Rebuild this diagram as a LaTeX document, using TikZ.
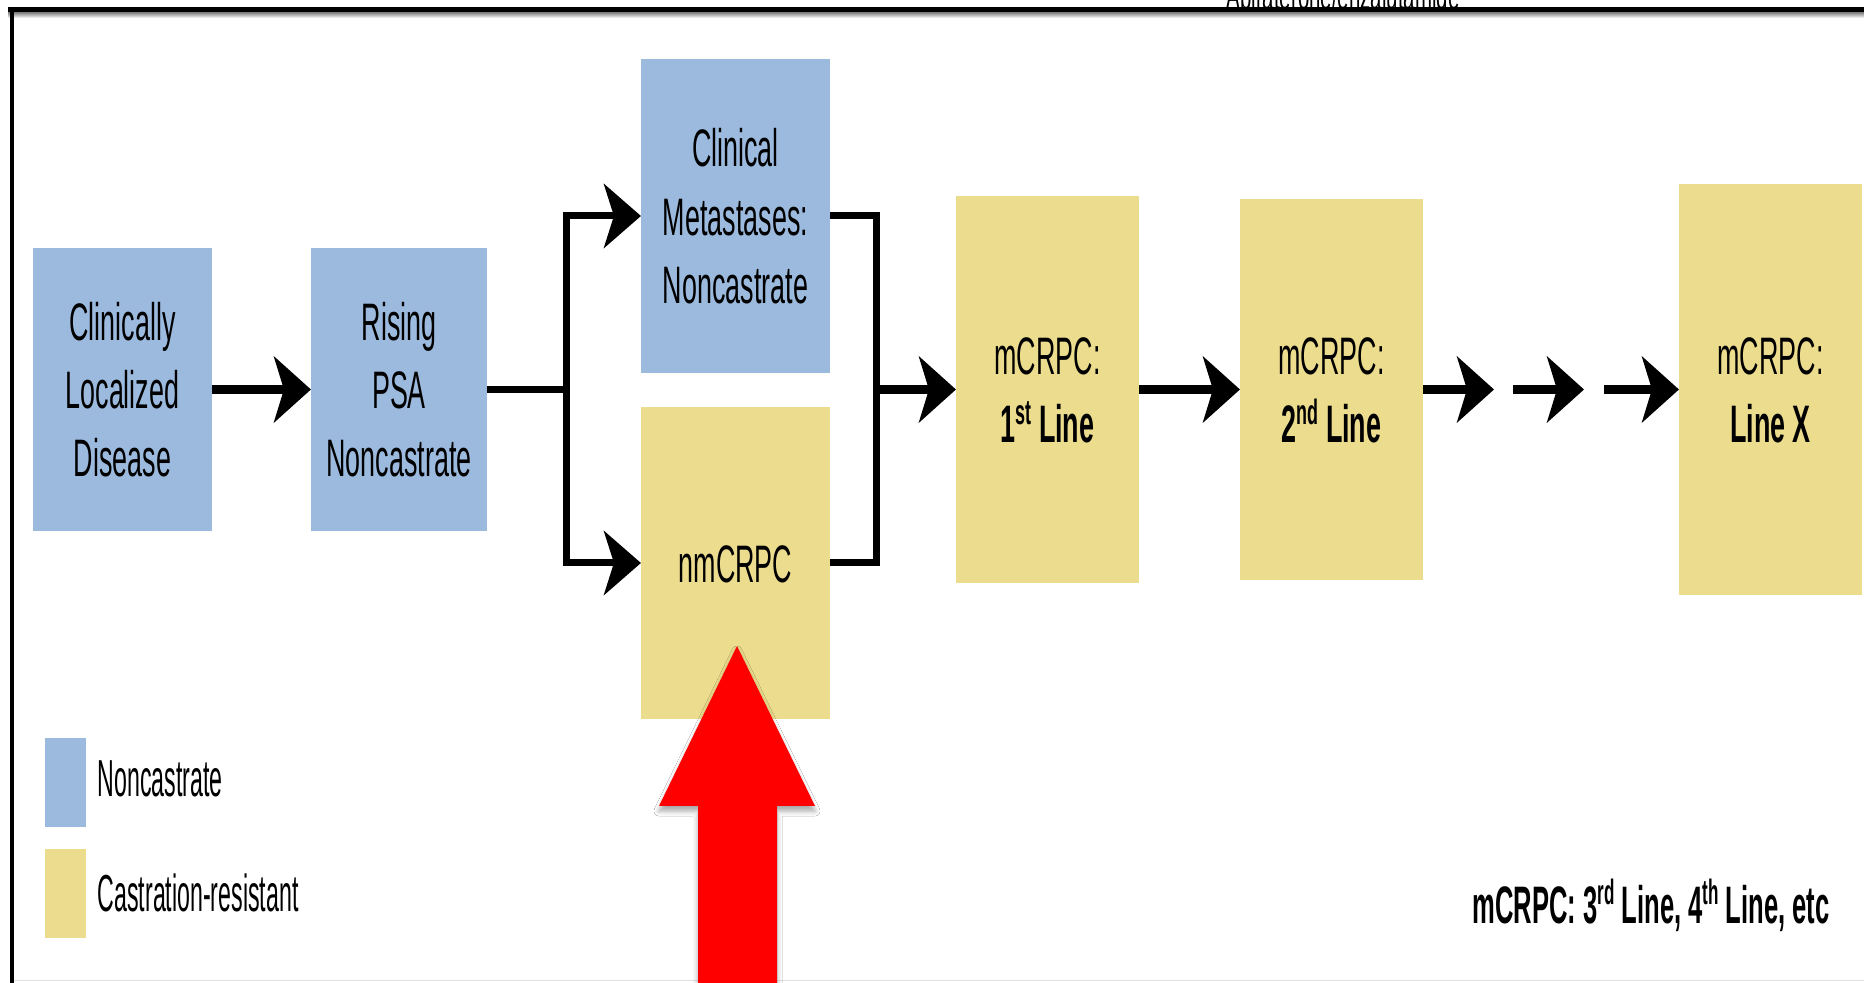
\documentclass[tikz,border=0pt]{standalone}
\usepackage{fontspec}
\setmainfont{Liberation Sans}[FakeStretch=0.51]
\newfontfamily\keyfont{Liberation Sans}[FakeStretch=0.445]
\newfontfamily\notefont{Liberation Sans}[FakeStretch=0.485]
\usetikzlibrary{arrows.meta,shadows.blur}

\definecolor{ncblue}{RGB}{156,186,221}
\definecolor{cryellow}{RGB}{236,220,142}

% strut centred on the cap height, so every line sits symmetrically
\newcommand\linestrut{\rule[-0.12cm]{0pt}{0.62cm}}
% ordinal suffix (st, nd, rd, th)
\newcommand\ordsup[1]{\raisebox{0.18cm}{\fontsize{10pt}{10pt}\selectfont #1}}

\tikzset{
  stage/.style={inner sep=0pt, outer sep=0pt, align=center,
    font=\fontsize{15pt}{19.35pt}\selectfont},
  noncast/.style={stage, fill=ncblue},
  castres/.style={stage, fill=cryellow},
  flow/.style={line width=0.09cm,
    -{Stealth[length=0.37cm,width=0.66cm,inset=0.1cm]}},
  branch/.style={line width=0.07cm},
  brancharrow/.style={branch,
    -{Stealth[length=0.37cm,width=0.64cm,inset=0.1cm]}},
  keybox/.style={inner sep=0pt, minimum width=0.41cm, minimum height=0.89cm},
  keytext/.style={inner sep=0pt, anchor=base west,
    font=\keyfont\fontsize{14.8pt}{16pt}\selectfont},
}

\begin{document}
\begin{tikzpicture}[x=0.01cm, y=-0.01cm]
\useasboundingbox (0,0) rectangle (1864,983);
\fill[white] (0,0) rectangle (1864,983);

% caption cut off by the slide edge
\node[inner sep=0pt, anchor=base, font=\fontsize{11.4pt}{11.4pt}\selectfont]
  (cuttext) at (1343,10) {Abiraterone/enzalutamide};

% slide frame
\fill[black] (8,7) rectangle (1864,13);
\shade[top color=black!45, bottom color=white] (8,13) rectangle (1864,18);
\fill[black] (10,7) rectangle (14,983);
\draw[line width=0.01cm, black!12] (14,980) -- (1864,980);

% disease states
\node[noncast, minimum width=1.79cm, minimum height=2.83cm] (local) at (122.5,389.5)
  {\linestrut Clinically\\\linestrut Localized\\\linestrut Disease};
\node[noncast, minimum width=1.76cm, minimum height=2.83cm] (psa) at (399,389.5)
  {\linestrut Rising\\\linestrut PSA\\\linestrut Noncastrate};
\node[noncast, minimum width=1.89cm, minimum height=3.14cm] (meta) at (735.5,216)
  {\linestrut Clinical\\\linestrut Metastases:\\\linestrut Noncastrate};
\node[castres, minimum width=1.89cm, minimum height=3.12cm] (nm) at (735.5,563)
  {\linestrut nmCRPC};
\node[castres, minimum width=1.83cm, minimum height=3.86cm] (first) at (1047.5,389.5)
  {\linestrut mCRPC:\\\linestrut\textbf{1\ordsup{st} Line}};
\node[castres, minimum width=1.83cm, minimum height=3.80cm] (second) at (1331.5,389.5)
  {\linestrut mCRPC:\\\linestrut\textbf{2\ordsup{nd} Line}};
\node[castres, minimum width=1.83cm, minimum height=4.11cm] (lastline) at (1770.5,389.5)
  {\linestrut mCRPC:\\\linestrut\textbf{Line X}};

% split after rising PSA
\coordinate (split) at (566,389.5);
\coordinate (splittop) at (566,216);
\coordinate (splitbot) at (566,563);
\draw[flow] (local.east) -- (psa.west);
\draw[branch] (psa.east) -- (split);
\draw[brancharrow] (splitbot) -- (splittop) -- (meta.west);
\draw[brancharrow] (splittop) -- (splitbot) -- (nm.west);

% merge into first-line mCRPC
\coordinate (mergetop) at (876,216);
\coordinate (mergebot) at (876,563);
\coordinate (merge) at (876,389.5);
\draw[branch] (meta.east) -- (mergetop) -- (mergebot) -- (nm.east);
\draw[flow] (merge) -- (first.west);
\draw[flow] (first.east) -- (second.west);

% further lines of therapy
\coordinate (ta) at (1494,389.5);
\coordinate (sb) at (1513,389.5);
\coordinate (tb) at (1584,389.5);
\coordinate (sc) at (1604,389.5);
\draw[flow] (second.east) -- (ta);
\draw[flow] (sb) -- (tb);
\draw[flow] (sc) -- (lastline.west);

% legend
\node[keybox, fill=ncblue] (keyblue) at (65.5,782.5) {};
\node[keybox, fill=cryellow] (keyyellow) at (65.5,893.5) {};
\node[keytext] (keync) at (97,797) {Noncastrate};
\node[keytext] (keycr) at (97,911) {Castration-resistant};

% note on later lines
\node[inner sep=0pt, anchor=base, font=\notefont\fontsize{15pt}{16pt}\selectfont\bfseries]
  (later) at (1651,923) {mCRPC: 3\ordsup{rd} Line, 4\ordsup{th} Line, etc};

% highlight pointing at nmCRPC
\fill[red, blur shadow={shadow xshift=0cm, shadow yshift=-0.05cm,
    shadow blur radius=0.05cm, shadow opacity=35}]
  (737,646) -- (815,806) -- (777,806) -- (777,990) -- (698,990)
  -- (698,806) -- (659,806) -- cycle;
\end{tikzpicture}
\end{document}
